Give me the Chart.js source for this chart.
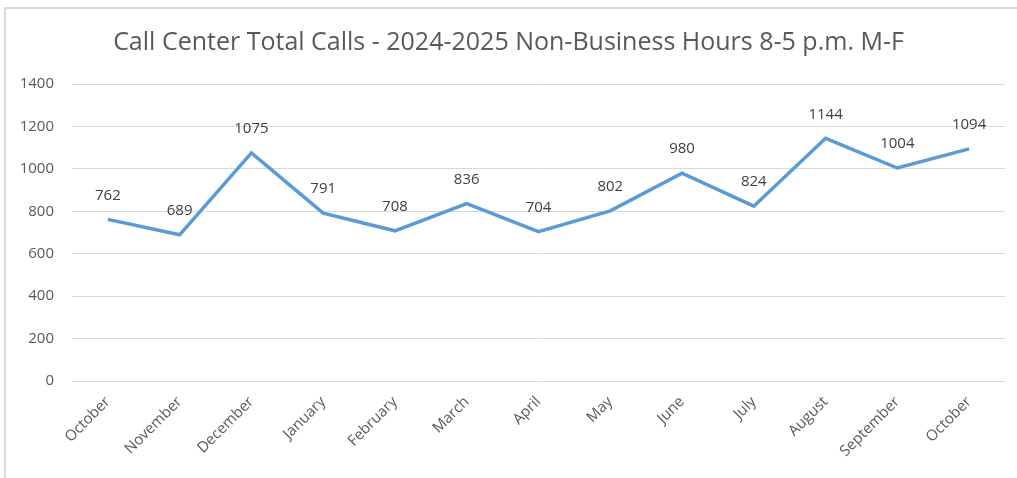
<!DOCTYPE html>
<html>
<head>
<meta charset="utf-8">
<script src="https://cdn.jsdelivr.net/npm/chart.js@4"></script>
<style>
  html, body { margin: 0; padding: 0; background: #ffffff; }
  #wrap { position: relative; width: 1017px; height: 478px; overflow: hidden; }
  #frame { position: absolute; left: 4px; top: 7px; right: -10px; bottom: -10px;
           border-top: 2px solid #d9d9d9; border-left: 2px solid #d9d9d9; }
  canvas { position: absolute; left: 0; top: 0; }
</style>
</head>
<body>
<div id="wrap">
  <div id="frame"></div>
  <canvas id="callsLine" width="1017" height="478"></canvas>
</div>
<script>
var months = ["October", "November", "December", "January", "February", "March", "April",
              "May", "June", "July", "August", "September", "October"];
var totalCalls = [762, 689, 1075, 791, 708, 836, 704, 802, 980, 824, 1144, 1004, 1094];
var yTicks = [0, 200, 400, 600, 800, 1000, 1200, 1400];

var fontName = "'Open Sans', 'Liberation Sans', sans-serif";

// labels above each point
var pointLabels = {
    id: 'pointLabels',
    afterDatasetsDraw: function(chart) {
        var ctx = chart.ctx;
        var meta = chart.getDatasetMeta(0);
        ctx.save();
        ctx.font = '15px ' + fontName;
        ctx.fillStyle = '#404040';
        ctx.textAlign = 'center';
        ctx.textBaseline = 'middle';
        meta.data.forEach(function(pt, i) {
            ctx.fillText(String(totalCalls[i]), pt.x, pt.y - 24);
        });
        ctx.restore();
    }
};

var callsLine = document.getElementById("callsLine");
var myLineChart = new Chart(callsLine, {
    type: 'line',
    data: {
        labels: months,
        datasets: [{
            data: totalCalls,
            borderColor: "#5B9BD5",
            borderWidth: 3.5,
            pointRadius: 0,
            tension: 0,
            fill: false
        }]
    },
    options: {
        responsive: false,
        animation: false,
        layout: { padding: { left: 12, right: 12, top: 0, bottom: 0 } },
        plugins: {
            legend: { display: false },
            tooltip: { enabled: false },
            title: {
                display: true,
                text: 'Call Center Total Calls - 2024-2025 Non-Business Hours 8-5 p.m. M-F',
                color: '#595959',
                font: { family: fontName, size: 25, weight: 'normal' },
                padding: { top: 28, bottom: 26 }
            }
        },
        scales: {
            x: {
                offset: true,
                grid: { display: false, drawTicks: false },
                border: { display: false },
                ticks: {
                    color: '#595959',
                    font: { family: fontName, size: 15 },
                    minRotation: 45,
                    maxRotation: 45,
                    padding: 12
                },
                afterFit: function(scale) { scale.height = 97; }
            },
            y: {
                min: 0,
                max: 1400,
                grid: { color: '#d9d9d9', lineWidth: 1, drawTicks: false },
                border: { display: false },
                afterBuildTicks: function(scale) {
                    scale.ticks = yTicks.map(function(v) { return { value: v }; });
                },
                ticks: {
                    color: '#595959',
                    font: { family: fontName, size: 15 },
                    padding: 18,
                    callback: function(v) { return String(v); }
                },
                afterFit: function(scale) { scale.width = 60; }
            }
        }
    },
    plugins: [pointLabels]
});
</script>
</body>
</html>
